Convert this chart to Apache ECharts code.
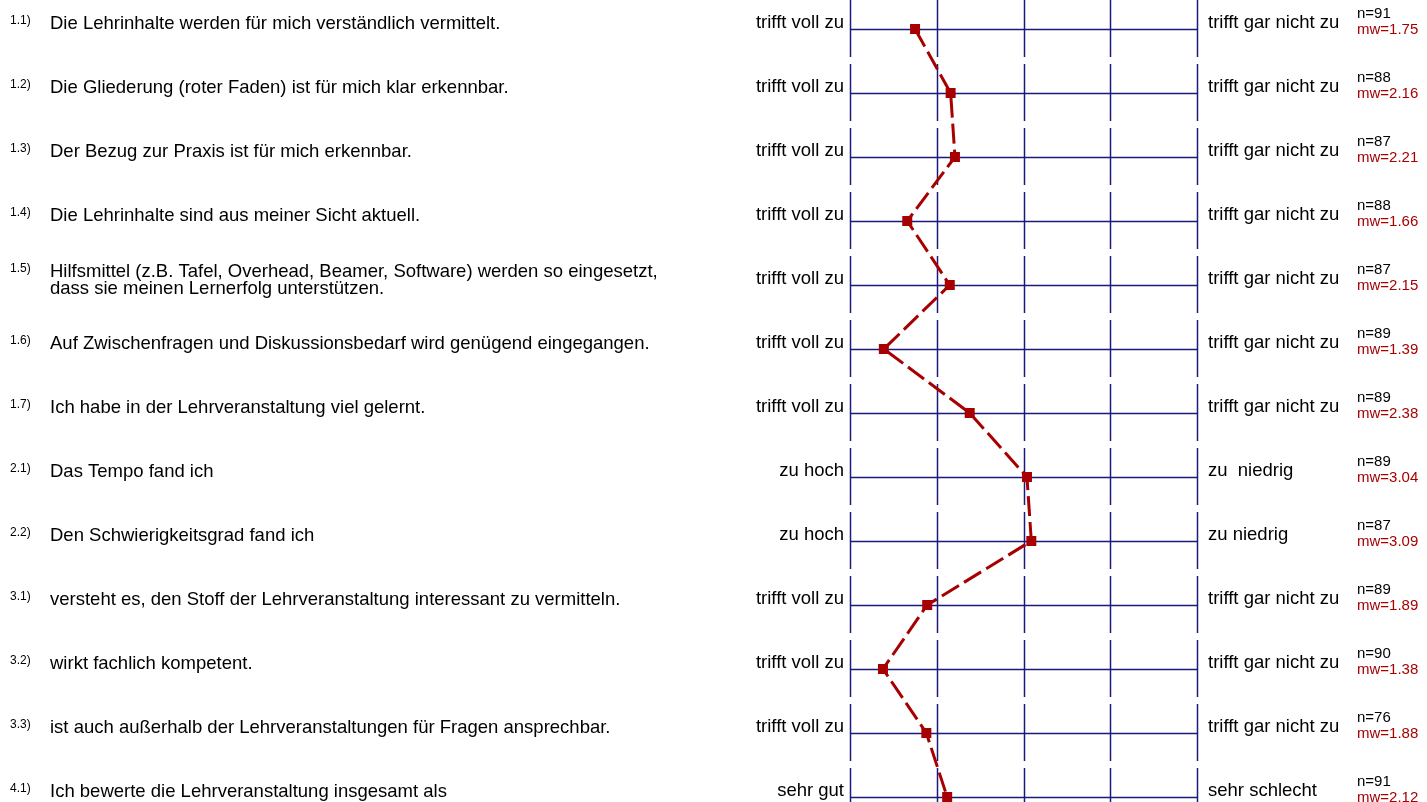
<!DOCTYPE html>
<html>
<head>
<meta charset="utf-8">
<script src="https://cdn.jsdelivr.net/npm/echarts@6/dist/echarts.min.js"></script>
<style>html,body{margin:0;padding:0;background:#fff}#c{width:1427px;height:802px}</style>
</head>
<body>
<div id="c"></div>
<script>
const itemNumbers = ['1.1)','1.2)','1.3)','1.4)','1.5)','1.6)','1.7)','2.1)','2.2)','3.1)','3.2)','3.3)','4.1)'];
const itemTexts = [
  'Die Lehrinhalte werden für mich verständlich vermittelt.',
  'Die Gliederung (roter Faden) ist für mich klar erkennbar.',
  'Der Bezug zur Praxis ist für mich erkennbar.',
  'Die Lehrinhalte sind aus meiner Sicht aktuell.',
  'Hilfsmittel (z.B. Tafel, Overhead, Beamer, Software) werden so eingesetzt,\ndass sie meinen Lernerfolg unterstützen.',
  'Auf Zwischenfragen und Diskussionsbedarf wird genügend eingegangen.',
  'Ich habe in der Lehrveranstaltung viel gelernt.',
  'Das Tempo fand ich',
  'Den Schwierigkeitsgrad fand ich',
  'versteht es, den Stoff der Lehrveranstaltung interessant zu vermitteln.',
  'wirkt fachlich kompetent.',
  'ist auch außerhalb der Lehrveranstaltungen für Fragen ansprechbar.',
  'Ich bewerte die Lehrveranstaltung insgesamt als'
];
const leftPoles = ['trifft voll zu','trifft voll zu','trifft voll zu','trifft voll zu','trifft voll zu','trifft voll zu','trifft voll zu','zu hoch','zu hoch','trifft voll zu','trifft voll zu','trifft voll zu','sehr gut'];
const rightPoles = ['trifft gar nicht zu','trifft gar nicht zu','trifft gar nicht zu','trifft gar nicht zu','trifft gar nicht zu','trifft gar nicht zu','trifft gar nicht zu','zu  niedrig','zu niedrig','trifft gar nicht zu','trifft gar nicht zu','trifft gar nicht zu','sehr schlecht'];
const nValues = [91,88,87,88,87,89,89,89,87,89,90,76,91];
const means = [1.75,2.16,2.21,1.66,2.15,1.39,2.38,3.04,3.09,1.89,1.38,1.88,2.12];
const scalePoints = [1,2,3,4,5];

const FONT = 'Liberation Sans, Arial, sans-serif';
const NAVY = '#1a1a7c';
const RED = '#a80000';

const chart = echarts.init(document.getElementById('c'), null, {renderer:'canvas'});

function frameItem(params, api) {
  const i = api.value(1);
  const children = [];
  const p1 = api.coord([scalePoints[0], i]);
  const p5 = api.coord([scalePoints[scalePoints.length-1], i]);
  const yy = Math.round(p1[1]) + 0.5;
  children.push({type:'line', shape:{x1:p1[0], y1:yy, x2:p5[0], y2:yy}, style:{stroke:NAVY, lineWidth:1.5}});
  scalePoints.forEach(v => {
    const p = api.coord([v, i]);
    const x = Math.round(p[0]) + 0.5;
    children.push({type:'line', shape:{x1:x, y1:p[1]-29, x2:x, y2:p[1]+28}, style:{stroke:NAVY, lineWidth:1.5}});
  });
  return {type:'group', children};
}

function textItem(params, api) {
  const i = api.value(1);
  const p1 = api.coord([scalePoints[0], i]);
  const p5 = api.coord([scalePoints[scalePoints.length-1], i]);
  const Y = p1[1];
  const children = [];
  const lines = itemTexts[i].split('\n');
  const shift = (lines.length - 1) * 8.5;
  children.push({type:'text', style:{text:itemNumbers[i], x:10, y:Y-8-shift, fill:'#000', font:'12px ' + FONT, align:'left', verticalAlign:'middle'}});
  lines.forEach((ln, k) => {
    children.push({type:'text', style:{text:ln, x:50, y:Y-5-shift + k*17, fill:'#000', font:'18.5px ' + FONT, align:'left', verticalAlign:'middle'}});
  });
  children.push({type:'text', style:{text:leftPoles[i], x:p1[0]-6, y:Y-6, fill:'#000', font:'18.5px ' + FONT, align:'right', verticalAlign:'middle'}});
  children.push({type:'text', style:{text:rightPoles[i], x:p5[0]+11, y:Y-6, fill:'#000', font:'18.5px ' + FONT, align:'left', verticalAlign:'middle'}});
  children.push({type:'text', style:{text:'n=' + nValues[i], x:p5[0]+160, y:Y-15, fill:'#000', font:'15px ' + FONT, align:'left', verticalAlign:'middle'}});
  children.push({type:'text', style:{text:'mw=' + means[i].toFixed(2), x:p5[0]+160, y:Y+1, fill:RED, font:'15px ' + FONT, align:'left', verticalAlign:'middle'}});
  return {type:'group', children};
}

const rowData = means.map((m, i) => [m, i]);

chart.setOption({
  animation:false,
  backgroundColor:'#fff',
  grid:{left:850, right:230, top:29, bottom:5},
  xAxis:{type:'value', min:1, max:5, show:false},
  yAxis:{type:'value', min:0, max:12, inverse:true, show:false},
  series:[
    {type:'custom', renderItem:frameItem, data:rowData, clip:false, z:1, silent:true},
    {type:'custom', renderItem:textItem, data:rowData, clip:false, z:2, silent:true},
    {type:'line', data:rowData, clip:false, z:3, symbol:'rect', symbolSize:10,
     itemStyle:{color:RED}, lineStyle:{color:RED, width:3, type:[20,6]}}
  ]
});
</script>
</body>
</html>
